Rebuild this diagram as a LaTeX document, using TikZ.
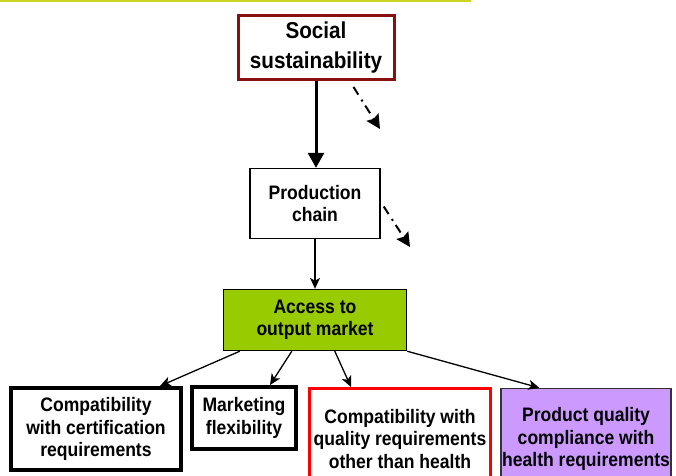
\documentclass[tikz,border=0pt]{standalone}
\usepackage{fontspec}
\setmainfont{Liberation Sans}[FakeStretch=0.9]
\usetikzlibrary{arrows.meta, positioning}

\definecolor{ruleyellow}{RGB}{204,212,36}
\definecolor{socialred}{RGB}{136,16,16}
\definecolor{accessgreen}{RGB}{153,204,0}
\definecolor{healthpurple}{RGB}{204,153,255}

\begin{document}
\begin{tikzpicture}[x=1pt, y=-1pt,
    box/.style={rectangle, draw=black, align=center, inner sep=0pt, font=\bfseries\fontsize{19.5}{22.5}\selectfont},
    social/.style={box, draw=socialred, line width=3pt, minimum width=156pt, minimum height=64pt, font=\bfseries\fontsize{23}{30}\selectfont},
    chain/.style={box, line width=1.4pt, minimum width=130pt, minimum height=70pt, font=\bfseries\fontsize{19.5}{22}\selectfont},
    market/.style={box, fill=accessgreen, line width=1.4pt, minimum width=183pt, minimum height=61pt, font=\bfseries\fontsize{19.5}{22}\selectfont},
    criterion/.style={box, line width=4pt},
    redcriterion/.style={box, draw=red, line width=3pt, minimum width=181pt, minimum height=101pt},
    purplecriterion/.style={box, fill=healthpurple, draw=black!80, line width=1.4pt, minimum width=170pt, minimum height=101pt},
    line/.style={draw, line width=1.3pt, -{Stealth[length=11pt, width=10pt, inset=3pt]}},
    thickline/.style={draw, line width=3pt, -{Triangle[length=15pt, width=16pt]}},
    dashdot/.style={draw, line width=2pt, dash pattern=on 9pt off 6pt on 2pt off 5pt, -{Stealth[length=14pt, width=14pt, inset=2pt]}}
]
\useasboundingbox (0,0) rectangle (676,475);
\clip (0,0) rectangle (676,475);

% Rule
\draw[ruleyellow, line width=2pt] (0,1) -- (471,1);

% Boxes
\node[social] (social) at (316,47.5) {Social\\sustainability};
\node[chain] (prod) at (315,203.5) {Production\\chain};
\node[market] (access) at (315,320) {Access to\\output market};
\node[criterion, minimum width=170pt, minimum height=82pt] (cert) at (96,429) {Compatibility\\with certification\\requirements};
\node[criterion, minimum width=104pt, minimum height=62pt] (flex) at (244,418) {Marketing\\flexibility};
\node[redcriterion] (quality) at (400,439) {Compatibility with\\\makebox[174pt]{quality requirements}\\other than health};
\node[purplecriterion] (health) at (586,439) {Product quality\\compliance with\\\makebox[166pt]{health requirements}};

% Free ends
\coordinate (drift1) at (380,129);
\coordinate (drift2) at (410,247);

% Connections
\path [thickline] (social.south) -- (social.south |- prod.north);
\path [dashdot] ([shift={(-42,6)}]social.south east) -- (drift1);
\path [dashdot] ([shift={(3,3)}]prod.east) -- (drift2);
\path [line] (prod.south) -- (prod.south |- access.north);
\path [line] ([xshift=17pt]access.south west) -- ([xshift=-23pt]cert.north east);
\path [line] ([xshift=69pt]access.south west) -- ([xshift=-28pt]flex.north east);
\path [line] ([xshift=112pt]access.south west) -- ([xshift=43pt]quality.north west);
\path [line] (access.south east) -- ([xshift=39pt]health.north west);

\end{tikzpicture}
\end{document}
